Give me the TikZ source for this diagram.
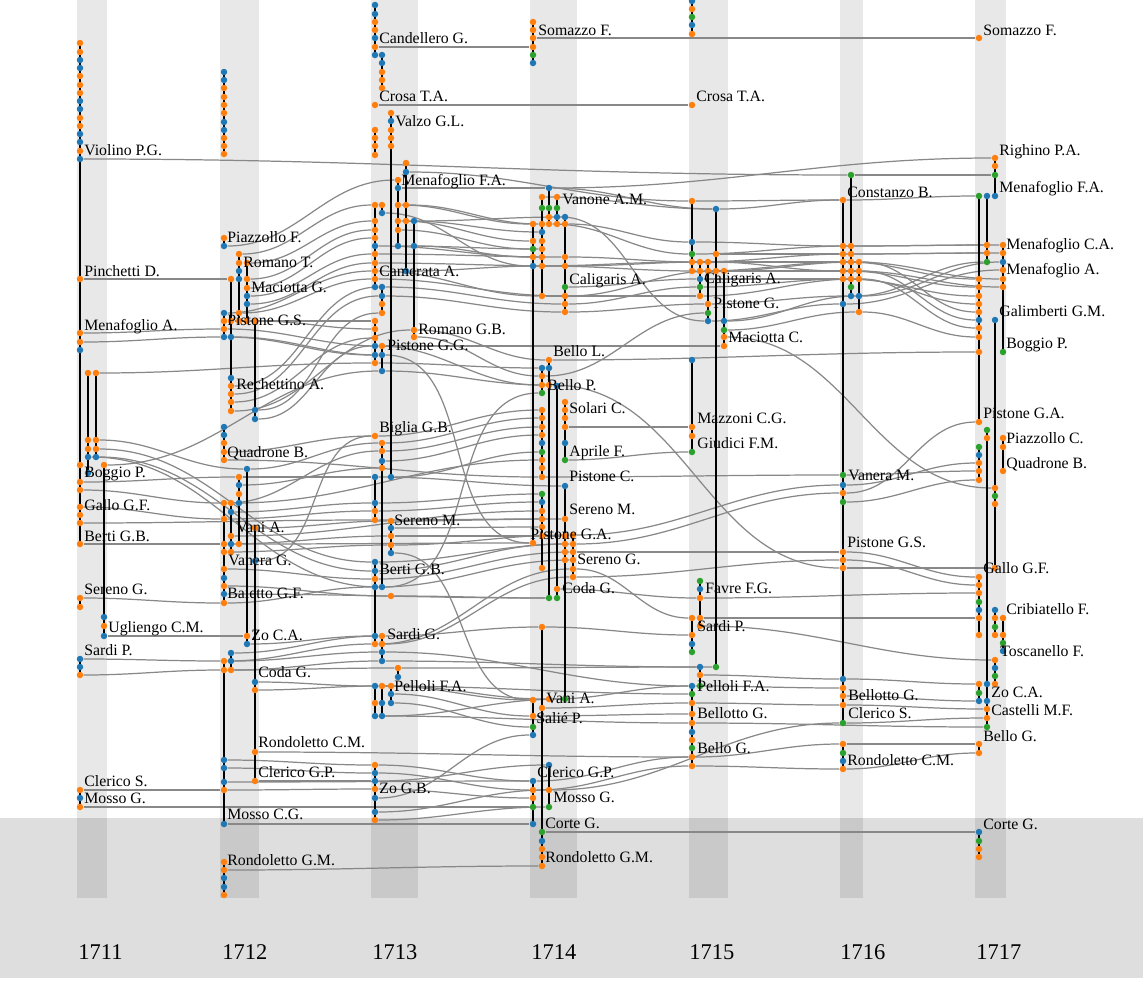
\documentclass[tikz,border=0pt]{standalone}
\usepackage{fontspec}
\setmainfont{Liberation Serif}

\definecolor{O}{HTML}{FF7F0E}
\definecolor{B}{HTML}{1F77B4}
\definecolor{G}{HTML}{2CA02C}
\definecolor{linkgray}{HTML}{888888}
\definecolor{floorgray}{HTML}{DEDEDE}

\pgfdeclarelayer{bands}
\pgfdeclarelayer{links}
\pgfdeclarelayer{stems}
\pgfsetlayers{bands,links,stems,main}

\tikzset{
  ball/.style={circle, inner sep=0pt, minimum size=0.13cm},
  stemline/.style={draw=black, line width=0.85pt},
  linkline/.style={draw=linkgray, line width=0.7pt, out=0, in=180},
  band/.style={fill=black, fill opacity=0.09},
  who/.style={anchor=base west, inner sep=0pt, font=\fontsize{9}{10}\selectfont},
  yearlab/.style={anchor=base west, inner sep=0pt, font=\fontsize{12.8}{14}\selectfont},
}

% columna de puntos, tramo negro y enlace gris
\newcommand\dotcol[2]{\foreach \y/\c in {#2}{\node[ball, fill=\c] (n#1-\y) at (#1,\y) {};}}
\newcommand\joint[3]{\draw[stemline] (n#1-#2.center) -- (n#1-#3.center);}
\newcommand\conn[2]{\draw[linkline] (n#1) to (n#2);}

\begin{document}
\begin{tikzpicture}[x=0.02cm, y=-0.02cm]
\useasboundingbox (0,0) rectangle (1143,988);

% ── Fondo y franjas de los años ───────────────────────────────
\begin{pgfonlayer}{bands}
\fill[floorgray] (0,818) rectangle (1143,978);
\foreach \a/\b in {77/107, 220/259, 371/418, 530/577, 689/728, 840/863, 975/1006}
  \fill[band] (\a,0) rectangle (\b,898);
\end{pgfonlayer}

% ── 1711 ──────────────────────────────────────────────────────
\dotcol{80}{43/O,52/O,60/B,68/B,76/O,85/O,93/O,101/B,109/B,118/O,126/O,134/B,142/B,151/O,159/B,279/O,333/O,342/O,350/B,465/O,482/O,490/O,507/O,515/O,523/O,544/O,598/O,607/O,659/B,667/B,675/O,790/O,798/B,807/O}
\dotcol{88}{373/O,440/O,449/O,457/B,473/B}
\dotcol{96}{373/O,440/O,449/O,457/B}
\dotcol{104}{465/O,617/B,626/O,636/B}

% ── 1712 ──────────────────────────────────────────────────────
\dotcol{224}{72/B,80/B,88/O,97/O,105/O,113/O,122/B,130/B,138/O,146/O,154/O,238/O,246/B,313/B,321/O,329/O,337/B,427/B,435/B,443/O,452/O,460/O,503/O,519/O,544/O,552/O,569/O,578/B,586/O,594/B,603/O,661/O,670/O,760/B,768/B,782/B,790/O,824/B,862/O,870/O,878/B,887/B,895/O}
\dotcol{231}{279/O,321/O,337/B,378/B,386/O,394/O,402/O,411/O,503/O,512/B,536/O,544/B,552/O,653/B,661/B,670/O}
\dotcol{239}{254/O,263/O,271/B,279/B,313/O,321/O,477/O,485/B,494/O,503/B,544/O}
\dotcol{247}{263/O,279/O,288/O,296/B,304/B,321/O,469/B,636/O,644/B}
\dotcol{255}{321/O,410/B,419/B,528/O,561/B,682/B,690/O,752/O,781/O}

% ── 1713 ──────────────────────────────────────────────────────
\dotcol{375}{5/B,14/B,22/O,30/O,38/B,47/O,55/B,105/O,130/O,138/O,146/O,155/O,205/O,221/O,230/O,238/O,246/B,254/O,263/O,271/O,279/O,287/B,321/O,329/O,338/O,346/B,355/B,363/O,436/O,477/B,503/B,511/O,520/O,562/B,571/B,579/O,587/B,636/B,644/O,686/B,703/O,716/B,765/O,773/B,781/B,789/O,798/B,812/B,820/O}
\dotcol{382}{55/B,63/B,72/O,80/O,88/O,205/O,213/B,287/B,296/B,304/O,313/O,346/O,355/B,371/B,443/O,451/O,461/B,468/O,587/B,636/O,644/O,652/B,661/B,686/O,703/B,716/B}
\dotcol{391}{113/O,121/B,130/O,138/O,146/O,477/B,521/O,528/B,536/O,545/O,553/B,596/O,686/O,694/B,703/B}
\dotcol{398}{180/O,188/B,205/O,221/O,230/O,246/B,668/O,677/B}
\dotcol{406}{163/O,172/B,205/O,221/O,271/B}
\dotcol{414}{221/B,246/B,330/O,337/O}

% ── 1714 ──────────────────────────────────────────────────────
\dotcol{533}{22/O,30/O,38/O,47/O,55/G,63/B,224/O,241/O,249/G,257/O,266/B,543/O,700/O,716/O,727/G,735/B,781/B,790/O,798/O,807/G,824/B}
\dotcol{542}{197/O,208/G,224/O,232/B,241/O,249/O,257/O,266/O,296/O,368/B,376/O,385/O,393/G,410/O,418/O,427/O,435/O,443/B,452/G,460/O,468/O,477/O,494/G,502/B,511/O,519/O,527/O,536/O,568/O,627/O,708/O,832/G,841/B,849/O,857/O,866/O}
\dotcol{549}{188/B,208/G,217/O,224/O,360/O,368/B,385/O,598/G,699/O,765/B,790/O,807/G}
\dotcol{557}{197/O,208/G,217/B,224/O,386/B,589/O,598/G}
\dotcol{565}{217/B,224/O,257/O,266/O,287/G,296/O,304/O,312/O,402/O,410/O,418/O,427/O,443/B,460/G,486/B,519/O,536/O,544/O,552/O,560/O,699/G}
\dotcol{573}{535/O,544/O,552/O,560/O,569/O,577/O}

% ── 1715 ──────────────────────────────────────────────────────
\dotcol{692}{1/B,9/O,17/G,25/B,34/O,105/O,201/O,242/B,254/G,262/O,271/O,360/B,427/O,436/O,452/G,618/O,635/O,644/B,652/G,686/B,694/G,703/O,714/O,723/O,732/B,740/O,748/G,757/O,766/O}
\dotcol{700}{262/O,271/O,279/B,287/G,296/O,581/G,589/B,598/O,618/O,626/O,667/B,675/O,686/G}
\dotcol{708}{262/O,271/O,304/O,313/G,321/B}
\dotcol{716}{209/B,254/O,271/O,667/G}
\dotcol{724}{271/O,321/B,330/G,337/O,346/O}

% ── 1716 ──────────────────────────────────────────────────────
\dotcol{843}{200/O,246/O,254/O,262/O,271/O,279/O,304/B,475/G,485/B,493/O,502/G,552/O,560/O,568/O,679/B,688/O,696/O,705/O,723/G,744/O,753/G,761/B,769/O}
\dotcol{851}{175/G,246/O,254/O,262/O,271/O,279/O,287/G,296/B}
\dotcol{859}{262/O,271/O,279/O,296/B,312/O}

% ── 1717 ──────────────────────────────────────────────────────
\dotcol{979}{38/O,196/G,279/O,287/O,296/O,304/O,312/O,320/B,328/O,337/O,352/O,422/O,447/G,455/B,463/O,471/O,480/O,577/O,585/O,593/O,602/G,610/B,618/O,635/O,684/O,693/G,701/B,744/O,753/O,832/B,841/G,849/O,857/O}
\dotcol{987}{196/B,245/O,253/O,262/G,430/G,438/O,684/B,701/B,709/O,718/O,727/G}
\dotcol{995}{158/O,166/O,175/G,196/B,320/B,488/O,496/G,504/O,568/O,610/B,618/O,627/G,635/O,660/O,668/B,676/G,684/O}
\dotcol{1003}{245/O,253/O,262/B,270/O,279/O,287/O,352/G,438/O,447/O,471/O,618/O,635/O,643/G,651/B}

% ── Tramos negros ─────────────────────────────────────────────
\begin{pgfonlayer}{stems}
\joint{80}{43}{544} \joint{80}{598}{607} \joint{80}{659}{675} \joint{80}{790}{807}
\joint{88}{373}{473} \joint{96}{373}{457} \joint{104}{465}{636}
\joint{224}{72}{154} \joint{224}{238}{246} \joint{224}{313}{337} \joint{224}{427}{460}
\joint{224}{503}{603} \joint{224}{661}{824} \joint{224}{862}{895}
\joint{231}{279}{411} \joint{231}{503}{552} \joint{231}{653}{670}
\joint{239}{254}{321} \joint{239}{477}{544}
\joint{247}{263}{321} \joint{247}{469}{644}
\joint{255}{321}{419} \joint{255}{528}{781}
\joint{375}{5}{55} \joint{375}{130}{155} \joint{375}{205}{287} \joint{375}{321}{363}
\joint{375}{477}{520} \joint{375}{562}{644} \joint{375}{686}{716} \joint{375}{765}{820}
\joint{382}{55}{88} \joint{382}{205}{213} \joint{382}{287}{313} \joint{382}{346}{371}
\joint{382}{443}{587} \joint{382}{636}{661} \joint{382}{686}{716}
\joint{391}{113}{477} \joint{391}{521}{553} \joint{391}{686}{703}
\joint{398}{180}{246} \joint{398}{668}{677}
\joint{406}{163}{271} \joint{414}{221}{337}
\joint{533}{22}{63} \joint{533}{224}{543} \joint{533}{700}{735} \joint{533}{781}{824}
\joint{542}{197}{296} \joint{542}{368}{393} \joint{542}{410}{477} \joint{542}{494}{568}
\joint{542}{627}{866}
\joint{549}{188}{224} \joint{549}{360}{598} \joint{549}{765}{807}
\joint{557}{197}{224} \joint{557}{386}{598}
\joint{565}{217}{312} \joint{565}{402}{460} \joint{565}{486}{699}
\joint{573}{535}{577}
\joint{692}{1}{34} \joint{692}{201}{271} \joint{692}{360}{452} \joint{692}{618}{652}
\joint{692}{686}{766}
\joint{700}{262}{296} \joint{700}{581}{626} \joint{700}{667}{686}
\joint{708}{262}{321} \joint{716}{209}{667} \joint{724}{271}{346}
\joint{843}{200}{723} \joint{843}{744}{769}
\joint{851}{175}{296} \joint{859}{262}{312}
\joint{979}{196}{422} \joint{979}{447}{480} \joint{979}{577}{635} \joint{979}{684}{701}
\joint{979}{744}{753} \joint{979}{832}{857}
\joint{987}{196}{262} \joint{987}{430}{727}
\joint{995}{158}{196} \joint{995}{320}{568} \joint{995}{610}{635} \joint{995}{660}{684}
\joint{1003}{245}{352} \joint{1003}{438}{471} \joint{1003}{618}{651}
\end{pgfonlayer}

% ── Enlaces grises entre años ─────────────────────────────────
\begin{pgfonlayer}{links}
% 1711 -> 1712
\conn{80-159}{851-175} \conn{851-175}{995-175}
\conn{80-279}{231-279} \conn{80-333}{224-329} \conn{80-342}{224-337}
\conn{96-373}{375-363} \conn{96-440}{247-469} \conn{96-449}{375-562}
\conn{96-457}{375-571} \conn{88-457}{382-587} \conn{104-465}{382-371}
\conn{80-482}{239-477} \conn{80-490}{224-503} \conn{80-507}{224-519}
\conn{80-523}{375-520} \conn{80-544}{224-544} \conn{80-598}{224-603}
\conn{104-636}{247-636} \conn{80-659}{224-661} \conn{80-675}{224-670}
\conn{80-790}{224-790} \conn{80-807}{533-807}
% 1712 -> 1713
\conn{224-246}{398-180} \conn{239-254}{375-205} \conn{247-263}{375-221}
\conn{247-279}{375-230} \conn{247-288}{375-238} \conn{247-296}{375-254}
\conn{247-304}{375-263} \conn{255-321}{375-329} \conn{224-313}{375-271}
\conn{239-313}{375-279} \conn{231-321}{375-321} \conn{224-329}{382-346}
\conn{224-337}{375-355} \conn{231-337}{382-355} \conn{231-386}{382-287}
\conn{231-394}{382-296} \conn{231-402}{375-338} \conn{231-411}{414-330}
\conn{255-410}{382-313} \conn{255-419}{375-346} \conn{247-469}{382-443}
\conn{224-452}{375-436} \conn{224-460}{542-477} \conn{239-477}{375-477}
\conn{239-485}{382-468} \conn{224-503}{382-451} \conn{231-503}{542-460}
\conn{231-512}{375-503} \conn{224-519}{375-511} \conn{255-528}{391-521}
\conn{231-536}{542-511} \conn{224-544}{391-536} \conn{239-544}{533-543}
\conn{224-552}{391-545} \conn{255-561}{375-436} \conn{224-569}{375-579}
\conn{224-586}{391-596} \conn{224-594}{549-598} \conn{224-603}{375-587}
\conn{247-644}{375-636} \conn{224-661}{375-644} \conn{231-653}{382-636}
\conn{231-661}{382-652} \conn{224-670}{398-668} \conn{231-670}{382-661}
\conn{255-682}{375-686} \conn{255-690}{382-686} \conn{255-752}{692-757}
\conn{224-760}{375-765} \conn{224-768}{375-773} \conn{255-781}{375-781}
\conn{224-782}{533-781} \conn{224-790}{375-789} \conn{224-824}{533-824}
\conn{224-870}{542-866} \conn{375-47}{533-47} \conn{375-105}{692-105}
% 1713 -> 1714
\conn{406-172}{692-201} \conn{398-188}{549-188} \conn{398-205}{533-224}
\conn{406-205}{542-224} \conn{398-221}{533-241} \conn{414-221}{565-217}
\conn{406-221}{542-232} \conn{398-230}{533-249} \conn{398-246}{542-249}
\conn{414-246}{533-257} \conn{375-246}{542-257} \conn{382-213}{533-266}
\conn{406-271}{542-266} \conn{375-254}{565-257} \conn{375-263}{565-266}
\conn{375-271}{542-296} \conn{375-279}{565-296} \conn{382-287}{565-304}
\conn{382-296}{565-312} \conn{414-330}{549-360} \conn{414-337}{542-376}
\conn{382-346}{724-346} \conn{375-346}{542-385} \conn{382-355}{533-543}
\conn{375-363}{542-368} \conn{382-371}{549-385} \conn{375-436}{542-410}
\conn{382-443}{542-418} \conn{382-451}{542-427} \conn{382-461}{542-435}
\conn{375-477}{565-486} \conn{391-477}{542-452} \conn{375-503}{542-494}
\conn{375-511}{542-502} \conn{375-520}{542-519} \conn{391-521}{565-519}
\conn{391-528}{542-527} \conn{391-536}{565-536} \conn{391-545}{573-535}
\conn{391-553}{533-700} \conn{375-562}{573-544} \conn{375-571}{565-544}
\conn{375-579}{573-552} \conn{382-587}{542-393} \conn{375-587}{573-560}
\conn{391-596}{549-598} \conn{382-636}{542-627} \conn{375-644}{573-569}
\conn{382-644}{573-577} \conn{382-652}{692-686} \conn{382-661}{700-667}
\conn{398-668}{716-667} \conn{375-686}{692-694} \conn{382-686}{533-700}
\conn{391-686}{549-699} \conn{391-694}{533-716} \conn{391-703}{533-727}
\conn{375-716}{692-723} \conn{382-716}{565-699} \conn{375-765}{533-781}
\conn{375-773}{533-790} \conn{375-781}{549-765} \conn{375-789}{533-798}
\conn{375-798}{533-735} \conn{375-812}{549-790} \conn{375-820}{549-807}
% 1714 -> 1715
\conn{549-188}{716-209} \conn{542-197}{716-209} \conn{549-188}{995-158}
\conn{565-224}{692-242} \conn{549-224}{692-254} \conn{565-257}{700-262}
\conn{565-266}{708-262} \conn{542-266}{700-271} \conn{533-266}{692-262}
\conn{565-287}{700-279} \conn{565-296}{716-271} \conn{565-304}{700-287}
\conn{542-296}{700-296} \conn{565-312}{708-304} \conn{549-360}{979-352}
\conn{542-376}{708-313} \conn{549-385}{843-568} \conn{557-217}{708-321}
\conn{565-427}{692-427} \conn{565-460}{692-452} \conn{542-477}{843-475}
\conn{573-535}{843-485} \conn{573-544}{843-493} \conn{573-552}{843-552}
\conn{573-577}{843-560} \conn{557-589}{700-598} \conn{542-627}{692-635}
\conn{549-699}{692-686} \conn{533-716}{692-714} \conn{542-708}{692-703}
\conn{549-790}{843-723} \conn{533-790}{692-766} \conn{533-781}{692-757}
\conn{542-832}{979-832} \conn{533-38}{979-38} \conn{573-569}{692-618}
% 1715 -> 1716 -> 1717
\conn{692-201}{843-200} \conn{716-209}{843-200} \conn{692-242}{843-246}
\conn{692-254}{851-246} \conn{716-254}{843-254} \conn{692-262}{851-254}
\conn{700-262}{843-262} \conn{700-271}{851-262} \conn{708-262}{843-271}
\conn{716-271}{859-262} \conn{724-271}{851-271} \conn{700-279}{843-279}
\conn{700-287}{851-279} \conn{708-271}{859-271} \conn{700-296}{859-279}
\conn{708-304}{851-296} \conn{708-321}{843-304} \conn{724-321}{859-296}
\conn{724-330}{859-312} \conn{724-337}{995-488}
\conn{843-200}{979-196} \conn{851-246}{987-245} \conn{843-246}{1003-245}
\conn{843-254}{1003-253} \conn{851-254}{987-253} \conn{859-262}{979-312}
\conn{859-271}{979-320} \conn{859-279}{979-328} \conn{851-262}{1003-279}
\conn{843-262}{979-279} \conn{843-271}{979-287} \conn{851-271}{1003-287}
\conn{843-279}{979-296} \conn{851-279}{979-304} \conn{851-296}{987-262}
\conn{843-304}{1003-270} \conn{859-296}{1003-262} \conn{859-312}{979-337}
\conn{843-475}{979-471} \conn{843-485}{979-463} \conn{843-493}{979-422}
\conn{843-502}{979-480} \conn{843-552}{979-577} \conn{843-568}{995-568}
\conn{843-560}{979-585} \conn{700-598}{979-593} \conn{700-618}{979-618}
\conn{700-626}{995-660} \conn{700-675}{843-679} \conn{843-679}{979-684}
\conn{692-686}{843-688} \conn{843-696}{979-701} \conn{692-703}{843-705}
\conn{843-705}{987-709} \conn{843-723}{987-718} \conn{692-723}{987-727}
\conn{692-757}{843-744} \conn{843-744}{979-744} \conn{692-766}{843-769}
\conn{843-769}{979-753}
\end{pgfonlayer}

% ── Nombres ───────────────────────────────────────────────────
\foreach \x/\y/\t in {
  84/150/Violino P.G., 84/271/Pinchetti D., 84/325/Menafoglio A., 84/472/Boggio P.,
  84/505/Gallo G.F., 84/536/Berti G.B., 84/589/Sereno G., 108/627/Ugliengo C.M.,
  84/650/Sardi P., 84/781/Clerico S., 84/798/Mosso G.,
  227/237/Piazzollo F., 243/262/Romano T., 251/287/Maciotta G., 227/320/Pistone G.S.,
  236/384/Rechettino A., 227/452/Quadrone B., 236/527/Vani A., 228/560/Vanera G.,
  227/593/Baietto G.F., 251/635/Zo C.A., 258/672/Coda G., 258/742/Rondoletto C.M.,
  258/772/Clerico G.P., 227/814/Mosso C.G., 227/860/Rondoletto G.M.,
  379/38/Candellero G., 379/96/Crosa T.A., 395/121/Valzo G.L., 401/180/Menafoglio F.A.,
  379/271/Camerata A., 418/329/Romano G.B., 387/345/Pistone G.G., 379/427/Biglia G.B.,
  394/520/Sereno M., 379/569/Berti G.B., 387/634/Sardi G., 394/686/Pelloli F.A.,
  379/788/Zo G.B.,
  538/30/Somazzo F., 562/199/Vanone A.M., 569/279/Caligaris A., 553/351/Bello L.,
  547/385/Bello P., 569/408/Solari C., 569/451/Aprile F., 569/476/Pistone C.,
  569/509/Sereno M., 530/534/Pistone G.A., 577/559/Sereno G., 562/588/Coda G.,
  546/698/Vani A., 536/718/Salié P., 537/772/Clerico G.P., 553/797/Mosso G.,
  545/823/Corte G., 545/857/Rondoletto G.M.,
  696/96/Crosa T.A., 704/278/Caligaris A., 713/303/Pistone G., 728/337/Maciotta C.,
  697/418/Mazzoni C.G., 697/443/Giudici F.M., 705/588/Favre F.G., 697/626/Sardi P.,
  697/686/Pelloli F.A., 697/713/Bellotto G., 697/748/Bello G.,
  847/192/Constanzo B., 848/475/Vanera M., 847/542/Pistone G.S., 848/695/Bellotto G.,
  848/713/Clerico S., 847/760/Rondoletto C.M.,
  983/30/Somazzo F., 999/150/Righino P.A., 999/187/Menafoglio F.A.,
  1006/244/Menafoglio C.A., 1006/269/Menafoglio A., 999/311/Galimberti G.M.,
  1006/343/Boggio P., 983/413/Pistone G.A., 1006/438/Piazzollo C., 1006/463/Quadrone B.,
  983/568/Gallo G.F., 1006/609/Cribiatello F., 1000/651/Toscanello F., 991/692/Zo C.A.,
  991/710/Castelli M.F., 983/736/Bello G., 983/824/Corte G.}
  \node[who] (w\x-\y) at (\x,{\y+5}) {\t};

% ── Años ──────────────────────────────────────────────────────
\foreach \x/\t in {78/1711, 222/1712, 372/1713, 531/1714, 689/1715, 840/1716, 976/1717}
  \node[yearlab] (y\t) at (\x,959) {\t};

\end{tikzpicture}
\end{document}
